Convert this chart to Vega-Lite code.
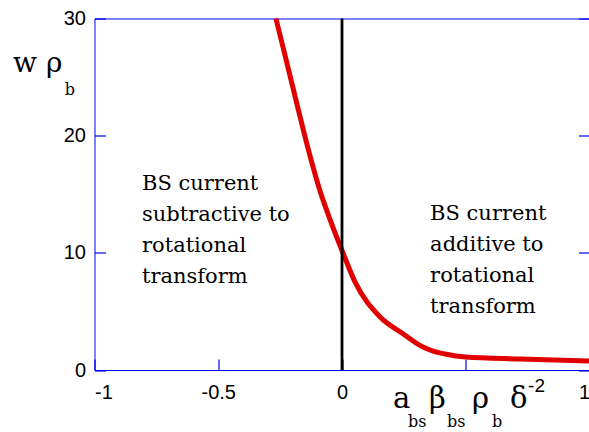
{
  "$schema": "https://vega.github.io/schema/vega-lite/v6.json",
  "width": 495,
  "height": 351.5,
  "autosize": {"type": "none"},
  "padding": {"left": 94.5, "top": 18.5, "right": 0, "bottom": 62},
  "background": "white",
  "config": {
    "view": {"stroke": "#0000ff", "strokeWidth": 1},
    "axis": {
      "grid": false,
      "domain": false,
      "tickColor": "#0000ee",
      "tickWidth": 1.2,
      "tickSize": -11,
      "labelFont": "Liberation Sans",
      "labelFontSize": 20,
      "labelColor": "black",
      "title": null
    }
  },
  "datasets": {
    "curve": [
      {"x": -0.267, "y": 30},
      {"x": -0.226, "y": 26.5},
      {"x": -0.182, "y": 22.7},
      {"x": -0.137, "y": 18.9},
      {"x": -0.089, "y": 15.3},
      {"x": -0.044, "y": 12.6},
      {"x": 0, "y": 10.2},
      {"x": 0.053, "y": 7.5},
      {"x": 0.154, "y": 4.52},
      {"x": 0.242, "y": 3.16},
      {"x": 0.327, "y": 1.96},
      {"x": 0.368, "y": 1.62},
      {"x": 0.416, "y": 1.37},
      {"x": 0.5, "y": 1.11},
      {"x": 0.72, "y": 0.94},
      {"x": 1.0, "y": 0.77}
    ]
  },
  "layer": [
    {
      "data": {"name": "curve"},
      "mark": {"type": "line", "color": "#e00000", "strokeWidth": 5, "interpolate": "monotone"},
      "encoding": {
        "x": {"field": "x", "type": "quantitative", "scale": {"domain": [-1, 1], "nice": false},
          "axis": {"orient": "bottom", "values": [-1, -0.5, 0, 0.5, 1], "labelExpr": "datum.value == 0.5 ? '' : '' + datum.value", "labelPadding": 23}},
        "y": {"field": "y", "type": "quantitative", "scale": {"domain": [0, 30], "nice": false},
          "axis": {"orient": "left", "values": [0, 10, 20, 30], "labelPadding": 20}}
      }
    },
    {
      "data": {"values": [{"x": 0, "y": 0, "y2": 30}]},
      "mark": {"type": "rule", "color": "black", "strokeWidth": 2.8},
      "encoding": {
        "x": {"field": "x", "type": "quantitative"},
        "y": {"field": "y", "type": "quantitative", "axis": {"orient": "right", "values": [0, 10, 20, 30], "labels": false}},
        "y2": {"field": "y2"}
      }
    },
    {
      "data": {"values": [
        {"x": -0.808, "y": 15.4, "t": "BS current\nsubtractive to\nrotational\ntransform"},
        {"x": 0.356, "y": 12.8, "t": "BS current\nadditive to\nrotational\ntransform"}
      ]},
      "mark": {"type": "text", "font": "DejaVu Serif", "fontSize": 21, "align": "left", "baseline": "alphabetic", "lineBreak": "\n", "lineHeight": 31, "color": "black"},
      "encoding": {
        "x": {"field": "x", "type": "quantitative"},
        "y": {"field": "y", "type": "quantitative", "axis": null},
        "text": {"field": "t"}
      }
    },
    {
      "data": {"values": [
        {"x": -1.329, "y": 25.43, "t": "w ρ"}
      ]},
      "mark": {"type": "text", "font": "DejaVu Serif", "fontSize": 28, "align": "left", "baseline": "alphabetic", "color": "black"},
      "encoding": {
        "x": {"field": "x", "type": "quantitative"},
        "y": {"field": "y", "type": "quantitative", "axis": null},
        "text": {"field": "t"}
      }
    },
    {
      "data": {"values": [
        {"x": 0.206, "y": -3.243, "t": "a"},
        {"x": 0.352, "y": -3.243, "t": "β"},
        {"x": 0.525, "y": -3.243, "t": "ρ"},
        {"x": 0.679, "y": -3.243, "t": "δ"}
      ]},
      "mark": {"type": "text", "font": "DejaVu Serif", "fontSize": 29, "align": "left", "baseline": "alphabetic", "color": "black"},
      "encoding": {
        "x": {"field": "x", "type": "quantitative"},
        "y": {"field": "y", "type": "quantitative", "axis": null},
        "text": {"field": "t"}
      }
    },
    {
      "data": {"values": [
        {"x": -1.12, "y": 23.47, "t": "b"},
        {"x": 0.267, "y": -4.865, "t": "bs"},
        {"x": 0.424, "y": -4.865, "t": "bs"},
        {"x": 0.606, "y": -4.865, "t": "b"}
      ]},
      "mark": {"type": "text", "font": "DejaVu Serif", "fontSize": 16, "align": "left", "baseline": "alphabetic", "color": "black"},
      "encoding": {
        "x": {"field": "x", "type": "quantitative"},
        "y": {"field": "y", "type": "quantitative", "axis": null},
        "text": {"field": "t"}
      }
    },
    {
      "data": {"values": [{"x": 0.752, "y": -1.878, "t": "-2"}]},
      "mark": {"type": "text", "font": "Liberation Sans", "fontSize": 19, "align": "left", "baseline": "alphabetic", "color": "black"},
      "encoding": {
        "x": {"field": "x", "type": "quantitative"},
        "y": {"field": "y", "type": "quantitative", "axis": null},
        "text": {"field": "t"}
      }
    }
  ],
  "resolve": {"axis": {"y": "independent"}}
}
